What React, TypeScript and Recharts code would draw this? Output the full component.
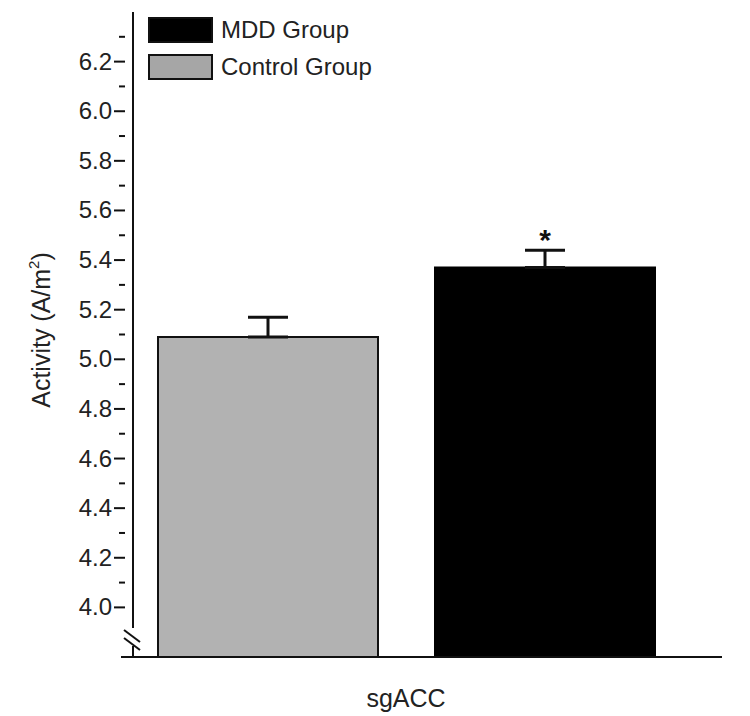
import React from "react";
import {
  BarChart,
  Bar,
  XAxis,
  YAxis,
  ErrorBar,
  LabelList,
} from "recharts";

const regions = ["sgACC"];
const controlMeans = [5.09];
const controlSem = [0.08];
const mddMeans = [5.37];
const mddSem = [0.07];
const significance = ["*"];
const yTicks = [4.0, 4.1, 4.2, 4.3, 4.4, 4.5, 4.6, 4.7, 4.8, 4.9, 5.0, 5.1, 5.2, 5.3, 5.4, 5.5, 5.6, 5.7, 5.8, 5.9, 6.0, 6.1, 6.2, 6.3];
const legendItems = [
  { label: "MDD Group", fill: "#000" },
  { label: "Control Group", fill: "#a6a6a6" },
];

const data = regions.map((name, i) => ({
  name,
  control: controlMeans[i],
  controlErr: [0, controlSem[i]],
  mdd: mddMeans[i],
  mddErr: [0, mddSem[i]],
  sig: significance[i],
}));

const FONT = "'Liberation Sans', Arial, sans-serif";

const YTick = (props: any) => {
  const { x, y, payload } = props;
  const v = Math.round(payload.value * 10);
  const major = v % 2 === 0;
  return (
    <g>
      <line x1={x} x2={x - (major ? 11 : 6)} y1={y} y2={y} stroke="#111" strokeWidth={2} />
      {major && (
        <text x={x - 13} y={y} dy={8} textAnchor="end" fontSize={24} fill="#222" fontFamily={FONT}>
          {payload.value.toFixed(1)}
        </text>
      )}
    </g>
  );
};

const YLabel = () => {
  const cx = 50;
  const cy = 330;
  return (
    <text
      x={cx}
      y={cy}
      transform={`rotate(-90 ${cx} ${cy})`}
      textAnchor="middle"
      fontSize={25}
      fill="#222"
      fontFamily={FONT}
    >
      Activity (A/m
      <tspan fontSize={15} dy={-11}>2</tspan>
      <tspan dy={11}>)</tspan>
    </text>
  );
};

const Star = (props: any) => {
  const { x, y, width, value } = props;
  return (
    <text x={x + width / 2} y={y - 18} textAnchor="middle" fontSize={30} fontWeight="bold" fill="#111" fontFamily={FONT}>
      {value}
    </text>
  );
};

export default function App() {
  return (
    <div style={{ position: "absolute", left: 0, top: 0, width: 750, height: 716, background: "#fff" }}>
      <BarChart
        width={750}
        height={716}
        data={data}
        margin={{ top: 12, right: 28, bottom: 19, left: 60 }}
        barGap={57}
        barSize={220}
      >
        <XAxis
          dataKey="name"
          height={40}
          padding={{ left: 0, right: 43 }}
          tickLine={false}
          axisLine={{ stroke: "#111", strokeWidth: 2 }}
          tick={{ fontSize: 25, fill: "#222", fontFamily: FONT, dy: 24 }}
        />
        <YAxis
          width={73}
          domain={[3.8, 6.4]}
          ticks={yTicks}
          interval={0}
          allowDataOverflow
          tickLine={false}
          axisLine={{ stroke: "#111", strokeWidth: 2 }}
          tick={<YTick />}
          label={<YLabel />}
        />
        <Bar dataKey="control" fill="#b2b2b2" stroke="#111" strokeWidth={2} isAnimationActive={false}>
          <ErrorBar dataKey="controlErr" width={20} stroke="#111" strokeWidth={3} direction="y" />
        </Bar>
        <Bar dataKey="mdd" fill="#000" stroke="#000" strokeWidth={2} isAnimationActive={false}>
          <ErrorBar dataKey="mddErr" width={20} stroke="#111" strokeWidth={3} direction="y" />
          <LabelList dataKey="sig" content={<Star />} />
        </Bar>
      </BarChart>
      <div style={{ position: "absolute", left: 148, top: 11, fontFamily: FONT, fontSize: 24, color: "#222" }}>
        {legendItems.map((it) => (
          <div key={it.label} style={{ display: "flex", alignItems: "center", height: 37 }}>
            <div
              style={{
                width: 61,
                height: 22,
                background: it.fill,
                border: "2px solid #111",
                marginRight: 8,
              }}
            />
            <span>{it.label}</span>
          </div>
        ))}
      </div>
      {/* axis break marks and x-axis stub left of the y-axis */}
      <svg width={750} height={716} style={{ position: "absolute", left: 0, top: 0, pointerEvents: "none" }}>
        <rect x={127} y={628} width={12} height={18} fill="#fff" />
        <line x1={121} y1={657} x2={133} y2={657} stroke="#111" strokeWidth={2} />
        <line x1={124} y1={630} x2={140} y2={642} stroke="#111" strokeWidth={2} />
        <line x1={124} y1={638} x2={140} y2={650} stroke="#111" strokeWidth={2} />
      </svg>
    </div>
  );
}
